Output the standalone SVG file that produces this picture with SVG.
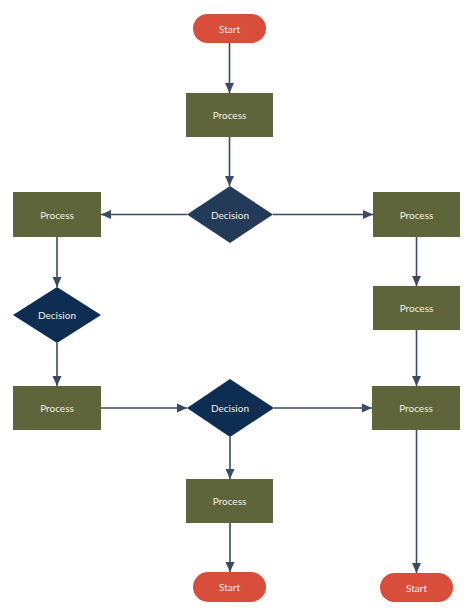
<svg xmlns="http://www.w3.org/2000/svg" width="474" height="616" viewBox="0 0 474 616">
<style>
.term{fill:#D94E3A}
.proc{fill:#5E653A}
.dec1{fill:#233A58}
.dec{fill:#0D2D52}
.lbl{font-family:Lato,"Open Sans",sans-serif;font-size:10px;fill:#F2F0E4;text-anchor:middle;dominant-baseline:central}
.conn{stroke:#3A4966;stroke-width:1.6;fill:none}
</style>
<defs>
<marker id="arr" markerUnits="userSpaceOnUse" markerWidth="10" markerHeight="10" viewBox="0 0 10 10" refX="10" refY="5" orient="auto">
<path d="M0,0.5 L10,5 L0,9.5 Z" fill="#3A4966"/>
</marker>
</defs>
<rect width="474" height="616" fill="#FFFFFF"/>
<g id="connectors">
<line class="conn" x1="229.5" y1="43" x2="229.5" y2="93" marker-end="url(#arr)"/>
<line class="conn" x1="229.5" y1="137" x2="229.5" y2="186" marker-end="url(#arr)"/>
<line class="conn" x1="187" y1="214.5" x2="101" y2="214.5" marker-end="url(#arr)"/>
<line class="conn" x1="273" y1="214.5" x2="373" y2="214.5" marker-end="url(#arr)"/>
<line class="conn" x1="57" y1="237" x2="57" y2="287" marker-end="url(#arr)"/>
<line class="conn" x1="57" y1="343" x2="57" y2="386" marker-end="url(#arr)"/>
<line class="conn" x1="101" y1="408" x2="187" y2="408" marker-end="url(#arr)"/>
<line class="conn" x1="274" y1="408" x2="372" y2="408" marker-end="url(#arr)"/>
<line class="conn" x1="230" y1="437" x2="230" y2="479" marker-end="url(#arr)"/>
<line class="conn" x1="230" y1="523" x2="230" y2="572" marker-end="url(#arr)"/>
<line class="conn" x1="416.5" y1="237" x2="416.5" y2="286" marker-end="url(#arr)"/>
<line class="conn" x1="416.5" y1="330" x2="416.5" y2="386" marker-end="url(#arr)"/>
<line class="conn" x1="416.5" y1="430" x2="416.5" y2="573" marker-end="url(#arr)"/>
</g>
<g id="start-top"><rect class="term" x="193" y="14" width="73" height="29" rx="14.5"/><text class="lbl" x="229.5" y="28.5">Start</text></g>
<g id="process-1"><rect class="proc" x="186" y="93" width="87" height="44"/><text class="lbl" x="229.5" y="115">Process</text></g>
<g id="decision-1"><polygon class="dec1" points="230,186 273,214.5 230,243 187,214.5"/><text class="lbl" x="230" y="214.5">Decision</text></g>
<g id="process-left-1"><rect class="proc" x="13" y="192" width="88" height="45"/><text class="lbl" x="57" y="214.5">Process</text></g>
<g id="decision-left"><polygon class="dec" points="57,287 101,315 57,343 13,315"/><text class="lbl" x="57" y="315">Decision</text></g>
<g id="process-left-2"><rect class="proc" x="13" y="386" width="88" height="44"/><text class="lbl" x="57" y="408">Process</text></g>
<g id="decision-3"><polygon class="dec" points="230,379 274,408 230,437 187,408"/><text class="lbl" x="230" y="408">Decision</text></g>
<g id="process-bottom"><rect class="proc" x="186" y="479" width="87" height="44"/><text class="lbl" x="229.5" y="501">Process</text></g>
<g id="start-bottom"><rect class="term" x="193" y="572" width="73" height="30" rx="15"/><text class="lbl" x="229.5" y="587">Start</text></g>
<g id="process-right-1"><rect class="proc" x="373" y="192" width="87" height="45"/><text class="lbl" x="416.5" y="214.5">Process</text></g>
<g id="process-right-2"><rect class="proc" x="373" y="286" width="87" height="44"/><text class="lbl" x="416.5" y="308">Process</text></g>
<g id="process-right-3"><rect class="proc" x="372" y="386" width="88" height="44"/><text class="lbl" x="416" y="408">Process</text></g>
<g id="start-right"><rect class="term" x="380" y="573" width="73" height="29" rx="14.5"/><text class="lbl" x="416.5" y="587.5">Start</text></g>
</svg>
